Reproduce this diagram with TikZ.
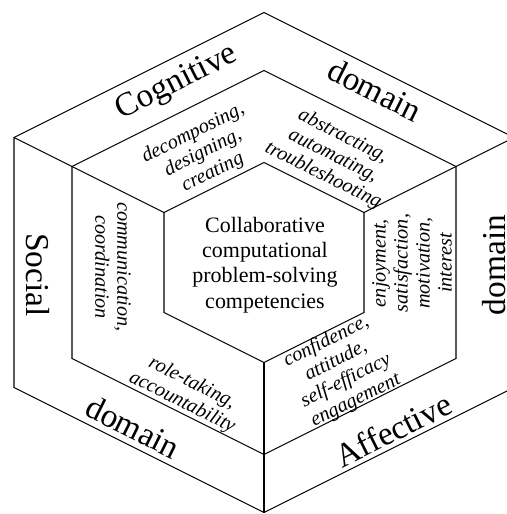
\documentclass[tikz,border=0pt]{standalone}
\usepackage{fontspec}
\setmainfont{Liberation Serif}
\usepackage{tikz}

\begin{document}
\begin{tikzpicture}[xscale=0.02,yscale=-0.02]
% yscale is negative so that coordinates read as image pixels

% style
\tikzset{
    every node/.style={inner sep=0pt, align=center},
    baseLine/.style={draw, line width=0.6pt},
    domainText/.style={font=\fontsize{19}{22}\selectfont},
    skillText/.style={font=\fontsize{11.5}{12.5}\selectfont\itshape},
    coreText/.style={font=\fontsize{12.5}{14.4}\selectfont}
}

\useasboundingbox (0,0) rectangle (507,514);
\clip (0,0) rectangle (507,514);

% hexagons
\foreach \s in {100,192,250} {
    \draw[baseLine] (264,262.5) ++(0,-\s) -- ++(\s,\s/2) -- ++(0,\s)
        -- ++(-\s,\s/2) -- ++(-\s,-\s/2) -- ++(0,-\s) -- cycle;
}

% borders between the domains
\draw[baseLine] ( 14,137.5) -- (164,212.5);
\draw[baseLine] (514,137.5) -- (364,212.5);
\draw[baseLine] (264,512.5) -- (264,362.5);

% domains
\node[domainText, rotate=26.57]  (cognitive) at (177, 83) {Cognitive};
\node[domainText, rotate=-26.57] (cogDomain) at (375, 90) {domain};
\node[domainText, rotate=-90]    (social)    at ( 38,275) {Social};
\node[domainText, rotate=-26.57] (socDomain) at (133,427) {domain};
\node[domainText, rotate=90]     (affDomain) at (494,265) {domain};
\node[domainText, rotate=26.57]  (affective) at (393,430) {Affective};

% competencies
\node[skillText, rotate=26.57]  (decomposing) at (203,153) {decomposing,\\ designing,\\ creating};
\node[skillText, rotate=-26.57] (abstracting) at (333,156) {abstracting,\\ automating,\\ troubleshooting};
\node[skillText, rotate=-90]    (communication) at (113,267) {communication,\\ coordination};
\node[skillText, rotate=-26.57] (roleTaking) at (187,393) {role-taking,\\ accountability};
\node[skillText, rotate=90]     (enjoyment) at (412,263) {enjoyment,\\ satisfaction,\\ motivation,\\ interest};
\node[skillText, rotate=26.57]  (confidence) at (341,371) {confidence,\\ attitude,\\ self-efficacy\\ engagement};

% core
\node[coreText] (core) at (265,265) {Collaborative\\ computational\\ problem-solving\\ competencies};

\end{tikzpicture}
\end{document}
